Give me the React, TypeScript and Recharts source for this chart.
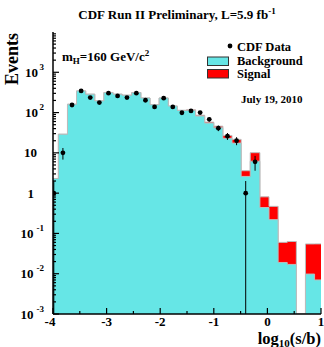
import { ComposedChart, Area, Scatter, ErrorBar, XAxis, YAxis, Legend } from 'recharts'

const WIDTH = 324
const HEIGHT = 347
const FONT = '"Liberation Serif", "DejaVu Serif", serif'
const CYAN = '#66e6e6'
const RED = '#ff0000'
const OUTLINE = '#bcbcbc'

// plot frame, page pixels
const LEFT = 53
const TOP = 32
const RIGHT = 321
const BOTTOM = 314

const Y_MIN = 0.001
const Y_MAX = 10000

// bin edges in log10(s/b); first and last bin run past the frame
const binEdges = [
  -4.07, -3.9, -3.73, -3.56, -3.39, -3.22, -3.05, -2.88, -2.71, -2.53, -2.36,
  -2.19, -2.02, -1.85, -1.68, -1.51, -1.34, -1.17, -1.0, -0.83, -0.66,
  -0.49, -0.32, -0.14, 0.03, 0.2, 0.37, 0.54, 0.71, 0.88, 1.05,
]
const background = [
  2.3, 29, 161, 345, 286, 195, 315, 286, 270, 315, 230, 157, 230, 145, 113,
  114, 82, 55, 42, 23, 17.5, 2.6, 6.2, 0.44, 0.22, 0.019, 0.017, 0, 0.0098, 0.007,
]
const signal = [
  0, 0, 0, 0, 0, 0, 0, 0, 0, 0, 0, 0, 0.3, 0.5, 1,
  3, 4, 3, 4, 4, 4.1, 1.0, 3.9, 0.37, 0.25, 0.041, 0.046, 0, 0.045, 0.048,
]
const dataCounts = [
  1, 10, 154, 345, 236, 177, 303, 259, 236, 303, 202, 138, 228, 138, 99,
  110, 100, 68, 41, 26, 20, 1, 6, 0, 0, 0, 0, 0, 0, 0,
]
const dataErr = [
  1, 3.2, 12.4, 18.6, 15.4, 13.3, 17.4, 16.1, 15.4, 17.4, 14.2, 11.7, 15.1, 11.7, 9.9,
  10.5, 10, 8.2, 6.4, 5.1, 4.5, 1, 2.4, 0, 0, 0, 0, 0, 0, 0,
]

const xTicks = [-4, -3.5, -3, -2.5, -2, -1.5, -1, -0.5, 0, 0.5, 1]
const yDecades = [-3, -2, -1, 0, 1, 2, 3]
const yMinorSteps = [2, 3, 4, 5, 6, 7, 8, 9]

const yTicks = yDecades.flatMap(d => [10 ** d, ...yMinorSteps.map(m => m * 10 ** d)])

const histRows = binEdges.map((x, i) => {
  const j = Math.min(i, background.length - 1)
  return {
    x,
    bg: Math.max(background[j], Y_MIN),
    total: Math.max(background[j] + signal[j], Y_MIN),
  }
})

const points = dataCounts
  .map((n, i) => ({
    x: (binEdges[i] + binEdges[i + 1]) / 2,
    n,
    err: [Math.min(dataErr[i], n - Y_MIN), dataErr[i]],
  }))
  .filter(p => p.n > 0)

const isMajorX = (v: number) => Math.abs(v - Math.round(v)) < 1e-6
const logInfo = (v: number) => {
  const lg = Math.log10(v)
  const e = Math.round(lg)
  return { e, major: Math.abs(lg - e) < 1e-6 }
}

const textStyle = { fontFamily: FONT, fontWeight: 'bold' as const, fill: '#000' }

function BottomTick({ x, payload }: any) {
  const major = isMajorX(payload.value)
  // the -4 label sits a little left of its tick, as in the original
  const lx = payload.value === -4 ? x - 3 : x
  return (
    <g>
      <line x1={x} x2={x} y1={BOTTOM} y2={BOTTOM - (major ? 6 : 3)} stroke="#000" strokeWidth={1.2} />
      {major && (
        <text x={lx} y={BOTTOM + 11.5} textAnchor="middle" fontSize={13} {...textStyle}>
          {String(payload.value)}
        </text>
      )}
    </g>
  )
}

function TopTick({ x, payload }: any) {
  const major = isMajorX(payload.value)
  return <line x1={x} x2={x} y1={TOP} y2={TOP + (major ? 6 : 3)} stroke="#000" strokeWidth={1.2} />
}

function LeftTick({ y, payload }: any) {
  const { e, major } = logInfo(payload.value)
  let label = null
  if (major) {
    if (e === 0) label = <text x={34} y={y + 4.5} textAnchor="end" fontSize={13} {...textStyle}>1</text>
    else if (e === 1) label = <text x={37} y={y + 4.5} textAnchor="end" fontSize={13} {...textStyle}>10</text>
    else
      label = (
        <text x={44} y={y + 4.5} textAnchor="end" fontSize={13} {...textStyle}>
          <tspan>10</tspan>
          <tspan dx={e < 0 ? 3 : 1.5} dy={-7} fontSize={9}>{String(e)}</tspan>
        </text>
      )
  }
  return (
    <g>
      <line x1={LEFT} x2={LEFT + (major ? 6 : 3)} y1={y} y2={y} stroke="#000" strokeWidth={1.2} />
      {label}
    </g>
  )
}

function RightTick({ y, payload }: any) {
  const { major } = logInfo(payload.value)
  return <line x1={RIGHT} x2={RIGHT - (major ? 6 : 3)} y1={y} y2={y} stroke="#000" strokeWidth={1.2} />
}

function LegendBox() {
  return (
    <svg width={118} height={44} style={{ display: 'block' }}>
      <circle cx={26} cy={8} r={2.4} fill="#000" />
      <text x={33} y={12.5} fontSize={12.5} {...textStyle}>CDF Data</text>
      <rect x={3.5} y={19} width={21} height={8.5} fill={CYAN} stroke="#333" strokeWidth={1} />
      <text x={33} y={26.5} fontSize={12.5} {...textStyle}>Background</text>
      <rect x={3.5} y={31.5} width={21} height={8.5} fill={RED} stroke="#333" strokeWidth={1} />
      <text x={33} y={39.5} fontSize={12.5} {...textStyle}>Signal</text>
    </svg>
  )
}

export default function App() {
  return (
    <div style={{ position: 'absolute', left: 0, top: 0, width: WIDTH, height: HEIGHT, background: '#fff' }}>
      <ComposedChart
        width={WIDTH}
        height={HEIGHT}
        data={histRows}
        margin={{ top: TOP, right: WIDTH - RIGHT, bottom: 0, left: 0 }}
      >
        <Area
          dataKey="total"
          type="stepAfter"
          fill={RED}
          fillOpacity={1}
          stroke={OUTLINE}
          strokeWidth={1}
          baseValue={Y_MIN}
          dot={false}
          activeDot={false}
          isAnimationActive={false}
        />
        <Area
          dataKey="bg"
          type="stepAfter"
          fill={CYAN}
          fillOpacity={1}
          stroke={OUTLINE}
          strokeWidth={1}
          baseValue={Y_MIN}
          dot={false}
          activeDot={false}
          isAnimationActive={false}
        />
        <Scatter
          data={points}
          dataKey="n"
          isAnimationActive={false}
          shape={(p: any) => <circle cx={p.cx} cy={p.cy} r={2.4} fill="#000" />}
        >
          <ErrorBar dataKey="err" direction="y" width={0} stroke="#000" strokeWidth={1} isAnimationActive={false} />
        </Scatter>

        <XAxis
          dataKey="x"
          type="number"
          domain={[-4, 1]}
          allowDataOverflow
          ticks={xTicks}
          interval={0}
          height={HEIGHT - BOTTOM}
          tickLine={false}
          axisLine={{ stroke: '#000', strokeWidth: 1.5 }}
          tick={(p: any) => <BottomTick {...p} />}
        />
        <XAxis
          xAxisId="top"
          orientation="top"
          dataKey="x"
          type="number"
          domain={[-4, 1]}
          allowDataOverflow
          ticks={xTicks}
          interval={0}
          height={0}
          tickLine={false}
          axisLine={{ stroke: '#000', strokeWidth: 1.5 }}
          tick={(p: any) => <TopTick {...p} />}
        />
        <YAxis
          type="number"
          scale="log"
          domain={[Y_MIN, Y_MAX]}
          allowDataOverflow
          ticks={yTicks}
          interval={0}
          width={LEFT}
          tickLine={false}
          axisLine={{ stroke: '#000', strokeWidth: 1.5 }}
          tick={(p: any) => <LeftTick {...p} />}
        />
        <YAxis
          yAxisId="right"
          orientation="right"
          type="number"
          scale="log"
          domain={[Y_MIN, Y_MAX]}
          allowDataOverflow
          ticks={yTicks}
          interval={0}
          width={0}
          tickLine={false}
          axisLine={{ stroke: '#000', strokeWidth: 1.5 }}
          tick={(p: any) => <RightTick {...p} />}
        />
        <Legend
          layout="vertical"
          align="center"
          verticalAlign="middle"
          wrapperStyle={{ position: 'absolute', left: 204, top: 38, width: 118, height: 44 }}
          content={() => <LegendBox />}
        />
      </ComposedChart>

      <svg
        width={WIDTH}
        height={HEIGHT}
        style={{ position: 'absolute', left: 0, top: 0, pointerEvents: 'none' }}
      >
        <text x={177} y={19} textAnchor="middle" fontSize={13} {...textStyle}>
          CDF Run II Preliminary, L=5.9 fb
          <tspan dy={-5} fontSize={9}>-1</tspan>
        </text>
        <text x={18} y={33} transform="rotate(-90 18 33)" textAnchor="end" fontSize={18} {...textStyle}>
          Events
        </text>
        <text x={62} y={61} fontSize={13} {...textStyle}>
          m<tspan dy={3} fontSize={9}>H</tspan>
          <tspan dy={-3}>=160 GeV/c</tspan>
          <tspan dy={-5} fontSize={9}>2</tspan>
        </text>
        <text x={241} y={103} fontSize={11} {...textStyle}>July 19, 2010</text>
        <text x={321} y={343.5} textAnchor="end" fontSize={16.5} {...textStyle}>
          log<tspan dy={3} fontSize={11}>10</tspan>
          <tspan dy={-3}>(s/b)</tspan>
        </text>
      </svg>
    </div>
  )
}
